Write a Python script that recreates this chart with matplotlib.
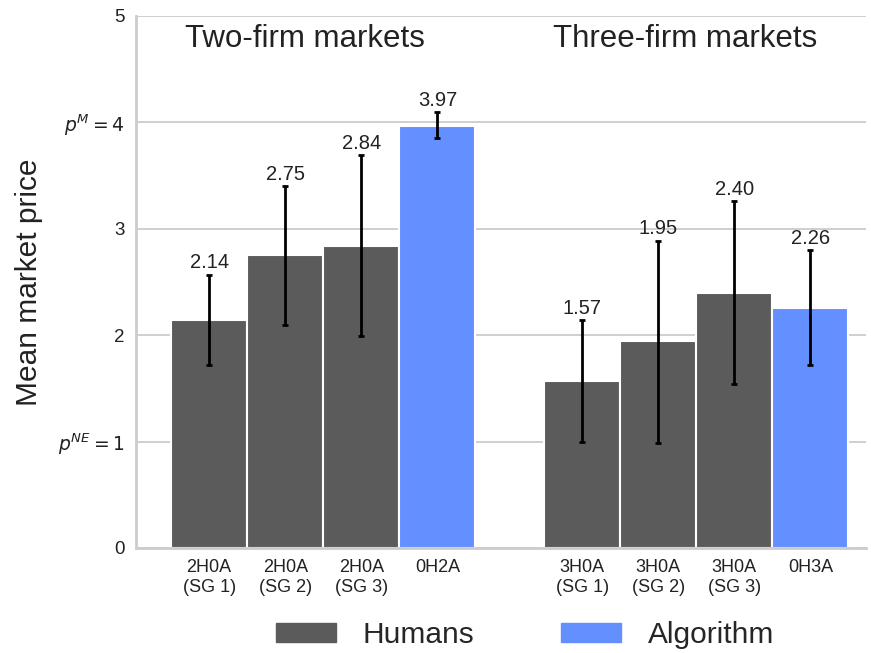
import matplotlib
matplotlib.use("Agg")
import matplotlib.pyplot as plt
import seaborn as sns
from matplotlib.patches import Patch

# -----------------------------
# Dados
# -----------------------------
rotulos = ["2H0A\n(SG 1)", "2H0A\n(SG 2)", "2H0A\n(SG 3)", "0H2A",
           "3H0A\n(SG 1)", "3H0A\n(SG 2)", "3H0A\n(SG 3)", "0H3A"]
medias = [2.14, 2.75, 2.84, 3.97, 1.57, 1.95, 2.40, 2.26]
erro_inf = [1.72, 2.10, 1.99, 3.85, 1.00, 0.99, 1.54, 1.72]
erro_sup = [2.57, 3.40, 3.69, 4.10, 2.14, 2.89, 3.26, 2.80]
tipo = ["H", "H", "H", "A", "H", "H", "H", "A"]
posicoes = [0, 1, 2, 3, 4.9, 5.9, 6.9, 7.9]

cor_humanos = "#5B5B5C"
cor_algoritmo = "#648FFF"

# -----------------------------
# Estilo
# -----------------------------
sns.set_style("whitegrid")
plt.rcParams["font.family"] = ["Liberation Sans", "DejaVu Sans"]
plt.rcParams["mathtext.fontset"] = "dejavusans"

fig = plt.figure(figsize=(8.71, 6.53), dpi=100)
ax = fig.add_axes([136 / 871, 105 / 653, 730 / 871, 532 / 653])

cores = [cor_humanos if t == "H" else cor_algoritmo for t in tipo]
ax.bar(posicoes, medias, width=1.0, color=cores, edgecolor="white", linewidth=1.5, zorder=2)

yerr = [[m - lo for m, lo in zip(medias, erro_inf)],
        [hi - m for m, hi in zip(medias, erro_sup)]]
ax.errorbar(posicoes, medias, yerr=yerr, fmt="none", ecolor="black",
            elinewidth=2, capsize=2, capthick=2, zorder=3)

for x, m, hi in zip(posicoes, medias, erro_sup):
    ax.text(x, hi + 0.02, f"{m:.2f}", ha="center", va="bottom", fontsize=14.5, color="#222222")

ax.set_xlim(-0.96, 8.63)
ax.set_ylim(0, 5)
ax.set_xticks(posicoes)
ax.set_xticklabels(rotulos, fontsize=13)
ax.set_yticks([0, 1, 2, 3, 4, 5])
ax.set_yticklabels(["0", "$p^{NE} = 1$", "2", "3", "$p^{M} = 4$", "5"], fontsize=13.5)
ax.tick_params(axis="both", length=0, pad=8, colors="#222222")
ax.set_ylabel("Mean market price", fontsize=21.5, color="#222222")
ax.yaxis.set_label_coords(-0.128, 0.5)
ax.grid(axis="x", visible=False)
ax.grid(axis="y", color="#cccccc", linewidth=1.3)

for lado in ["top", "right"]:
    ax.spines[lado].set_visible(False)
for lado in ["left", "bottom"]:
    ax.spines[lado].set_color("#cccccc")
    ax.spines[lado].set_linewidth(2)

ax.text(1.26, 4.71, "Two-firm markets", ha="center", va="baseline", fontsize=22.5, color="#222222")
ax.text(6.26, 4.71, "Three-firm markets", ha="center", va="baseline", fontsize=22.5, color="#222222")

handles = [Patch(color=cor_humanos, label="Humans"), Patch(color=cor_algoritmo, label="Algorithm")]
fig.legend(handles=handles, loc="center", bbox_to_anchor=(525 / 871, 1 - 635 / 653), ncol=2,
           frameon=False, fontsize=21.5, handlelength=2.0, handleheight=0.6,
           handletextpad=0.9, columnspacing=2.9)

plt.savefig("out.png", dpi=100)
